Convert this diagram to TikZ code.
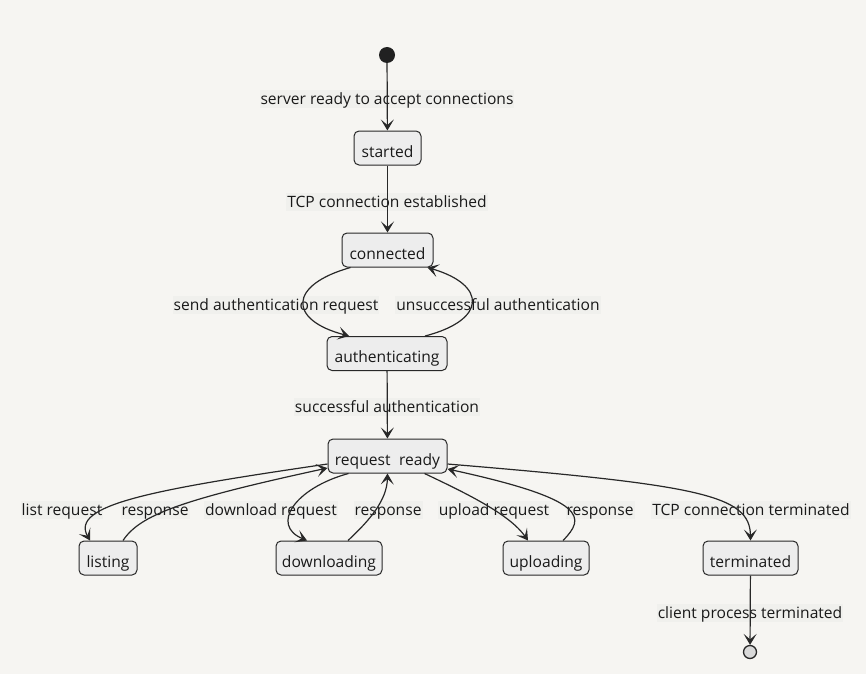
\documentclass[tikz,border=0pt]{standalone}
\usepackage{fontspec}
\setmainfont{Open Sans}
\usetikzlibrary{arrows.meta,calc}
\definecolor{bg}{RGB}{246,245,242}
\definecolor{lblbg}{RGB}{240,240,237}
\definecolor{boxfill}{RGB}{237,237,237}
\definecolor{edge}{RGB}{40,40,40}
\tikzset{
  statebox/.style={draw=edge, fill=boxfill, line width=1pt, rounded corners=5pt,
    minimum height=34pt, inner sep=0pt, text height=18pt, text depth=0pt,
    font=\fontsize{15.6}{18}\selectfont, text=black!90},
  elabel/.style={fill=lblbg, inner sep=1pt, anchor=base, text height=13pt, text depth=3pt,
    font=\fontsize{15.6}{18}\selectfont, text=black!90},
  trans/.style={draw=edge, line width=1.2pt, -{Stealth[length=11pt,width=13pt,inset=5.5pt]}},
}
\begin{document}
\begin{tikzpicture}[x=1pt,y=-1pt]
\path[use as bounding box, fill=bg] (0,0) rectangle (866,674);

% labels first (lines drawn over them)
\node[elabel] (l1) at (387,104) {server ready to accept connections};
\node[elabel] (l2) at (387,207) {TCP connection established};
\node[elabel] (l3) at (276,310) {send authentication request};
\node[elabel] (l4) at (498,310) {unsuccessful authentication};
\node[elabel] (l5) at (387,412) {successful authentication};
\node[elabel] (l6) at (62,515) {list request};
\node[elabel] (l7) at (155,515) {response};
\node[elabel] (l8) at (271,515) {download request};
\node[elabel] (l9) at (388,515) {response};
\node[elabel] (l10) at (494,515) {upload request};
\node[elabel] (l11) at (600,515) {response};
\node[elabel] (l12) at (751,515) {TCP connection terminated};
\node[elabel] (l13) at (750,618) {client process terminated};

% states
\node[circle, fill=black!87, inner sep=0pt, minimum size=16pt] (init) at (387,55) {};
\node[statebox, minimum width=67pt] (started) at (387.5,148) {started};
\node[statebox, minimum width=91pt] (connected) at (387.5,250) {connected};
\node[statebox, minimum width=120pt] (auth) at (387,353.5) {authenticating};
\node[statebox, minimum width=119pt] (rr) at (387.5,456) {request\hspace{0.55em}ready};
\node[statebox, minimum width=58pt] (listing) at (108,558) {listing};
\node[statebox, minimum width=106pt] (down) at (329,558) {downloading};
\node[statebox, minimum width=86pt] (up) at (546,558) {uploading};
\node[statebox, minimum width=95pt] (term) at (750.5,558) {terminated};
\node[circle, draw=edge, fill=black!15, line width=1.3pt, inner sep=0pt, minimum size=13pt] (final) at (750,652) {};

% transitions
\draw[trans] (init) -- (started);
\draw[trans] (started) -- (connected);
\draw[trans] ($(connected.south)+(-37,0)$) .. controls (288,285) and (288,320) .. ($(auth.north)+(-38,0)$);
\draw[trans] ($(auth.north)+(38,0)$) .. controls (487,320) and (487,285) .. ($(connected.south)+(40,0)$);
\draw[trans] (auth) -- (rr);
\draw[trans] ($(rr.west)+(0,8)$) .. controls (150,490) and (70,505) .. ($(listing.north)+(-18,0)$);
\draw[trans] ($(listing.north)+(15,0)$) .. controls (140,515) and (180,500) .. ($(rr.west)+(0,12)$);
\draw[trans] ($(rr.south)+(-39,0)$) .. controls (295,488) and (270,525) .. ($(down.north)+(-22,0)$);
\draw[trans] ($(down.north)+(19,0)$) .. controls (370,520) and (387,500) .. (rr.south);
\draw[trans] ($(rr.south)+(37,0)$) .. controls (470,495) and (510,515) .. ($(up.north)+(-18,0)$);
\draw[trans] ($(up.north)+(17,0)$) .. controls (585,518) and (590,500) .. ($(rr.east)+(0,13)$);
\draw[trans] ($(rr.east)+(0,8)$) .. controls (700,485) and (750,495) .. (term.north);
\draw[trans] (term) -- (final);
\end{tikzpicture}
\end{document}
